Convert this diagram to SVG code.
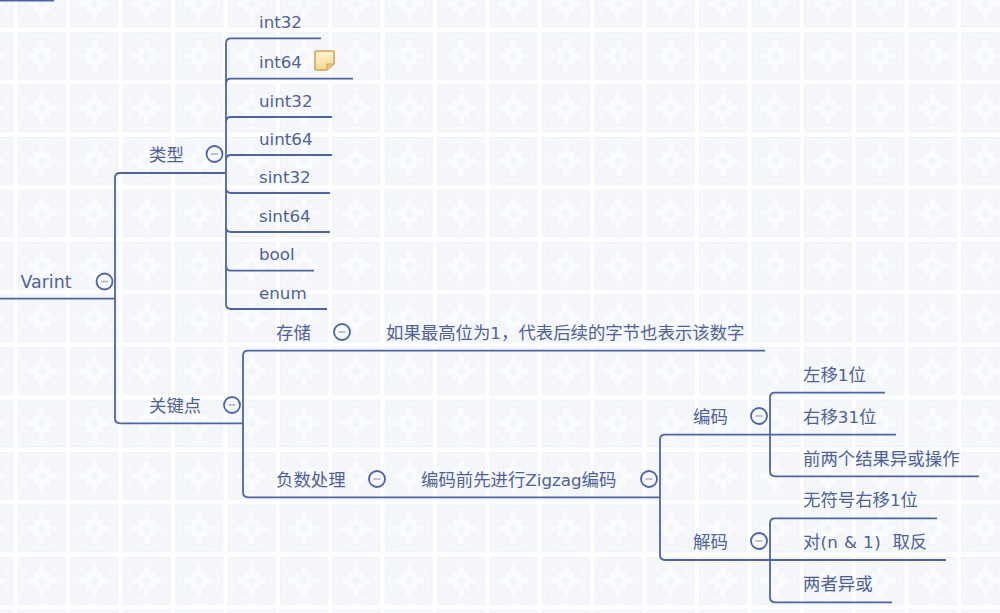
<svg xmlns="http://www.w3.org/2000/svg" width="1000" height="613" viewBox="0 0 1000 613">
<style>
text{font-family:"DejaVu Sans","Noto Sans CJK SC",sans-serif;font-size:17.4px;fill:#4f6298}
.l{font-size:16.700px}
.c{fill:none;stroke:#4f659f;stroke-width:1.800}
.m{fill:#f7f9fc;stroke:#4f659f;stroke-width:1.800}
.d{stroke:#a3aecb;stroke-width:1.500}
.p{fill:#fafbfd}
</style>
<defs>
<linearGradient id="noteFill" x1="0" y1="0" x2="0" y2="1"><stop offset="0" stop-color="#fdf3d2"/><stop offset="1" stop-color="#f8d98c"/></linearGradient>
<g id="minus"><circle r="8" class="m"/><path d="M-3.500 0H3.500" class="d"/></g>
<pattern id="tile" width="52.400" height="52.500" patternUnits="userSpaceOnUse" x="18" y="32">
<rect width="52.400" height="52.500" fill="#fefefe"/>
<rect width="47.800" height="47.800" fill="#f1f4f9"/>
<rect x="2.500" y="2.500" width="42.800" height="42.800" fill="#f4f6fa" stroke="#fafbfd" stroke-width="0.800"/>
<circle cx="23.900" cy="23.900" r="19" fill="#f3f5fa" stroke="#fafbfd" stroke-width="1.300"/>
<circle cx="23.900" cy="23.900" r="16" fill="none" stroke="#f8f9fc" stroke-width="0.800"/>
<g class="p">
<ellipse cx="23.900" cy="13" rx="3.200" ry="4.800"/><ellipse cx="23.900" cy="34.800" rx="3.200" ry="4.800"/>
<ellipse cx="13" cy="23.900" rx="4.800" ry="3.200"/><ellipse cx="34.800" cy="23.900" rx="4.800" ry="3.200"/>
<path d="M23.900 13L34.800 23.900L23.900 34.800L13 23.900Z"/>
<path d="M15.500 15.500h4.500v4.500h-4.500zM27.800 15.500h4.500v4.500h-4.500zM15.500 27.800h4.500v4.500h-4.500zM27.800 27.800h4.500v4.500h-4.500z"/>
</g>
<path d="M23.900 19L28.800 23.900L23.900 28.800L19 23.900Z" fill="#f2f5fa"/>
</pattern>
</defs>
<rect width="1000" height="613" fill="url(#tile)"/>
<g id="connectors">
<path class="c" d="M0 0.500H54"/>
<path class="c" d="M0 298.700H115"/>
<path class="c" d="M225 173H120Q115 173 115 178V418.300Q115 423.300 120 423.300H243"/>
<path class="c" d="M321 38.300H231Q226 38.300 226 43.300V304Q226 309 231 309H327"/>
<path class="c" d="M353 78.700H231Q226 78.700 226 83.700"/>
<path class="c" d="M332 117H231Q226 117 226 122"/>
<path class="c" d="M332 155H231Q226 155 226 160"/>
<path class="c" d="M330 193H231Q226 193 226 188"/>
<path class="c" d="M330 232H231Q226 232 226 227"/>
<path class="c" d="M314 270.700H231Q226 270.700 226 265.700"/>
<path class="c" d="M765 350.700H248Q243 350.700 243 355.700V492.300Q243 497.300 248 497.300H660"/>
<path class="c" d="M885 392.700H775Q770 392.700 770 397.700V471.300Q770 476.300 775 476.300H979"/>
<path class="c" d="M896 434.700H665Q660 434.700 660 439.700V555Q660 560 665 560H946"/>
<path class="c" d="M937 518.300H775Q770 518.300 770 523.300V597.300Q770 602.300 775 602.300H892"/>
</g>
<g id="node-varint"><text x="20.500" y="288">Varint</text><use href="#minus" x="104.500" y="281.500"/></g>
<g id="node-type"><text x="149" y="161">类型</text><use href="#minus" x="214.500" y="154"/></g>
<g id="node-int32"><text class="l" x="259" y="28">int32</text></g>
<g id="node-int64"><text class="l" x="259" y="68">int64</text>
<path d="M315 52Q315 51 316 51H333Q334 51 334 52V64L327 70H316Q315 70 315 69Z" fill="url(#noteFill)" stroke="#cda75a" stroke-width="1.600"/><path d="M334 64H327V70" fill="#e9c67c" stroke="#cda75a" stroke-width="1.200"/></g>
<g id="node-uint32"><text class="l" x="259" y="107">uint32</text></g>
<g id="node-uint64"><text class="l" x="259" y="145">uint64</text></g>
<g id="node-sint32"><text class="l" x="259" y="183">sint32</text></g>
<g id="node-sint64"><text class="l" x="259" y="222">sint64</text></g>
<g id="node-bool"><text class="l" x="259" y="260">bool</text></g>
<g id="node-enum"><text class="l" x="259" y="299">enum</text></g>
<g id="node-key"><text x="149" y="412">关键点</text><use href="#minus" x="232" y="405"/></g>
<g id="node-store"><text x="276" y="339">存储</text><use href="#minus" x="342" y="332"/></g>
<g id="node-store-note"><text x="386" y="339">如果最高位为<tspan class="l">1</tspan>，代表后续的字节也表示该数字</text></g>
<g id="node-negative"><text x="276" y="486">负数处理</text><use href="#minus" x="377" y="479"/></g>
<g id="node-zigzag"><text x="421" y="486">编码前先进行<tspan class="l">Zigzag</tspan>编码</text><use href="#minus" x="649" y="479"/></g>
<g id="node-encode"><text x="693" y="423">编码</text><use href="#minus" x="759" y="416"/></g>
<g id="node-decode"><text x="693" y="548">解码</text><use href="#minus" x="759" y="541"/></g>
<g id="node-e1"><text x="803" y="381">左移<tspan class="l">1</tspan>位</text></g>
<g id="node-e2"><text x="803" y="423">右移<tspan class="l">31</tspan>位</text></g>
<g id="node-e3"><text x="803" y="465">前两个结果异或操作</text></g>
<g id="node-d1"><text x="803" y="506">无符号右移<tspan class="l">1</tspan>位</text></g>
<g id="node-d2"><text x="803" y="548" xml:space="preserve">对<tspan class="l" letter-spacing="0.400">(n &amp; 1)  </tspan>取反</text></g>
<g id="node-d3"><text x="803" y="590">两者异或</text></g>
</svg>
